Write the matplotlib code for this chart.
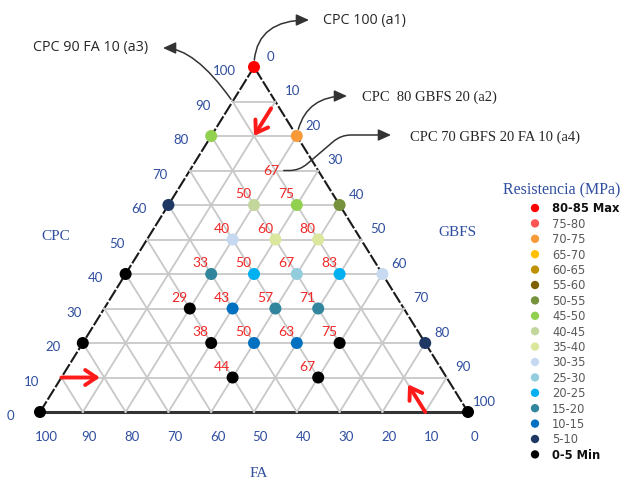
import matplotlib

matplotlib.use("Agg")
import matplotlib.pyplot as plt

# Tested mixes: binder proportions (%) and compressive strength class
cpc = [100, 80, 80, 70, 60, 60, 60, 60, 50, 50, 50, 40, 40, 40, 40, 40, 40,
       30, 30, 30, 30, 20, 20, 20, 20, 20, 20, 10, 10, 0, 0]
gbfs = [0, 20, 0, 20, 0, 20, 30, 40, 20, 30, 40, 0, 20, 30, 40, 50, 60,
        20, 30, 40, 50, 0, 30, 40, 50, 60, 80, 40, 60, 0, 100]
fa = [0, 0, 20, 10, 40, 20, 10, 0, 30, 20, 10, 60, 40, 30, 20, 10, 0,
      50, 40, 30, 20, 80, 50, 40, 30, 20, 0, 50, 30, 100, 0]
strength = ["80-85 Max", "70-75", "45-50", None,
            "5-10", "40-45", "45-50", "50-55",
            "30-35", "35-40", "35-40",
            "0-5 Min", "15-20", "20-25", "25-30", "20-25", "30-35",
            "0-5 Min", "10-15", "15-20", "15-20",
            "0-5 Min", "0-5 Min", "10-15", "10-15", "0-5 Min", "5-10",
            "0-5 Min", "0-5 Min",
            "0-5 Min", "0-5 Min"]

# Strength classes (MPa) and their colours
classes = ["80-85 Max", "75-80", "70-75", "65-70", "60-65", "55-60", "50-55",
           "45-50", "40-45", "35-40", "30-35", "25-30", "20-25", "15-20",
           "10-15", "5-10", "0-5 Min"]
class_colors = ["#ff0000", "#ff5454", "#f8993a", "#ffc000", "#bf9000", "#7f6000",
                "#76923c", "#92d050", "#c3d69b", "#dae79c", "#c6d9f1", "#93cddd",
                "#00b0f0", "#31859c", "#0070c0", "#1f3864", "#000000"]

ticks = [0, 10, 20, 30, 40, 50, 60, 70, 80, 90, 100]

# Call-outs: mix, caption
callouts = [
    ((100, 0, 0), "CPC 100 (a1)"),
    ((80, 20, 0), "CPC  80 GBFS 20 (a2)"),
    ((90, 0, 10), "CPC 90 FA 10 (a3)"),
    ((70, 20, 10), "CPC 70 GBFS 20 FA 10 (a4)"),
]

BLUE = "#2f4e9e"
GRID = "#c8c8c8"
SANS = ["Lato", "DejaVu Sans"]
SERIF = ["Liberation Serif", "DejaVu Serif"]
CAPTION_SANS = ["Open Sans", "DejaVu Sans"]


def to_xy(c, g, f):
    # CPC at the apex, GBFS at bottom right, FA at bottom left
    return g + c / 2.0, float(c)


def canvas(x, y):
    # canvas pixel position (624 x 481, origin top-left) -> data coordinates
    return (x - 40) / 4.28, (413 - y) / 3.45


fig = plt.figure(figsize=(6.24, 4.81), dpi=100)
ax = fig.add_axes([0, 0, 1, 1])
ax.set_xlim(-40 / 4.28, 584 / 4.28)
ax.set_ylim(-68 / 3.45, 413 / 3.45)
ax.axis("off")

# grid
for v in ticks[1:-1]:
    for a, b in [((v, 0, 100 - v), (v, 100 - v, 0)),
                 ((0, v, 100 - v), (100 - v, v, 0)),
                 ((0, 100 - v, v), (100 - v, 0, v))]:
        (x0, y0), (x1, y1) = to_xy(*a), to_xy(*b)
        ax.plot([x0, x1], [y0, y1], color=GRID, lw=1.3, zorder=2)

# triangle outline
top, left, right = to_xy(100, 0, 0), to_xy(0, 0, 100), to_xy(0, 100, 0)
ax.plot([left[0], top[0], right[0]], [left[1], top[1], right[1]],
        color="#1a1a1a", lw=1.5, ls=(0, (6, 1)), zorder=1)
ax.plot([left[0], right[0]], [left[1], right[1]], color="#333333", lw=2.2, zorder=1)

# tick labels on the three edges
tick_kw = dict(textcoords="offset points", ha="center", va="center",
               color=BLUE, fontsize=9.5, family=SANS)
for v in ticks:
    ax.annotate(str(v), to_xy(v, 0, 100 - v), xytext=(-21.5, -2.5), **tick_kw)
    ax.annotate(str(v), to_xy(100 - v, v, 0), xytext=(12, 8), **tick_kw)
    ax.annotate(str(v), to_xy(0, 100 - v, v), xytext=(4.5, -17), **tick_kw)

ax.text(*canvas(56, 237), "CPC", ha="center", va="center", color=BLUE,
        fontsize=11, family=SERIF)
ax.text(*canvas(457, 233), "GBFS", ha="center", va="center", color=BLUE,
        fontsize=11, family=SERIF)
ax.text(*canvas(259, 474), "FA", ha="center", va="center", color=BLUE,
        fontsize=11, family=SERIF)

# mixes
for c, g, f, s in zip(cpc, gbfs, fa, strength):
    x, y = to_xy(c, g, f)
    if s is not None:
        ax.scatter(x, y, s=75, color=class_colors[classes.index(s)],
                   edgecolors="none", zorder=4)
    if g > 0 and f > 0:
        share = int(100 * g / (g + f) + 0.5)
        off = (-7.5, 8.5) if s is not None else (-3, 0)
        ax.annotate(str(share), (x, y), xytext=off, textcoords="offset points",
                    ha="center", va="center", color="#f02828", fontsize=10,
                    family=SANS, zorder=5)

# red direction arrows along the grid
for a, b in [((88, 10, 2), (80, 10, 10)),
             ((10, 0, 90), (10, 9, 81)),
             ((0, 90, 10), (8, 82, 10))]:
    ax.annotate("", xy=to_xy(*b), xytext=to_xy(*a),
                arrowprops=dict(arrowstyle="->,head_length=0.45,head_width=0.3",
                                color="#ff1a1a", lw=2.8, shrinkA=0, shrinkB=0,
                                mutation_scale=18),
                zorder=6)

# call-outs
arrow_kw = dict(arrowstyle="-|>,head_length=0.55,head_width=0.25",
                color="#333333", lw=1.1, mutation_scale=14)
tips = [(309, 21), (347, 97), (163, 49), (391, 136)]
shapes = ["angle3,angleA=90,angleB=0", "angle3,angleA=80,angleB=0",
          "angle3,angleA=125,angleB=0", "arc,angleA=0,armA=24,angleB=180,armB=50,rad=10"]
starts = [5, 5, 2, 6]
text_pos = [(323, 21, "left", CAPTION_SANS, 10.3),
            (362, 97, "left", SERIF, 10.5),
            (148, 48, "right", CAPTION_SANS, 10.3),
            (410, 137, "left", SERIF, 10.5)]
for (mix, caption), tip, shape, sa, (tx, ty, ha, fam, fs) in zip(
        callouts, tips, shapes, starts, text_pos):
    ax.annotate("", xy=canvas(*tip), xytext=to_xy(*mix),
                arrowprops=dict(connectionstyle=shape, shrinkA=sa, shrinkB=0,
                                **arrow_kw), zorder=3)
    ax.text(*canvas(tx, ty), caption, ha=ha, va="center", color="#262626",
            fontsize=fs, family=fam)

# legend
ax.text(*canvas(562, 190), "Resistencia (MPa)", ha="center", va="center",
        color=BLUE, fontsize=11.5, family=SERIF)
for i, (lab, col) in enumerate(zip(classes, class_colors)):
    lx, ly = canvas(535, 209 + 15.4 * i)
    ax.scatter(lx, ly, s=36, color=col, edgecolors="none", clip_on=False)
    bold = lab.endswith("Max") or lab.endswith("Min")
    tx, ty = canvas(552, 209 + 15.4 * i)
    ax.text(tx, ty, lab, ha="left", va="center", fontsize=8.3,
            color="#111111" if bold else "#595959",
            fontweight="bold" if bold else "normal", family="DejaVu Sans")

fig.savefig("out.png", dpi=100, facecolor="white")
plt.close(fig)
